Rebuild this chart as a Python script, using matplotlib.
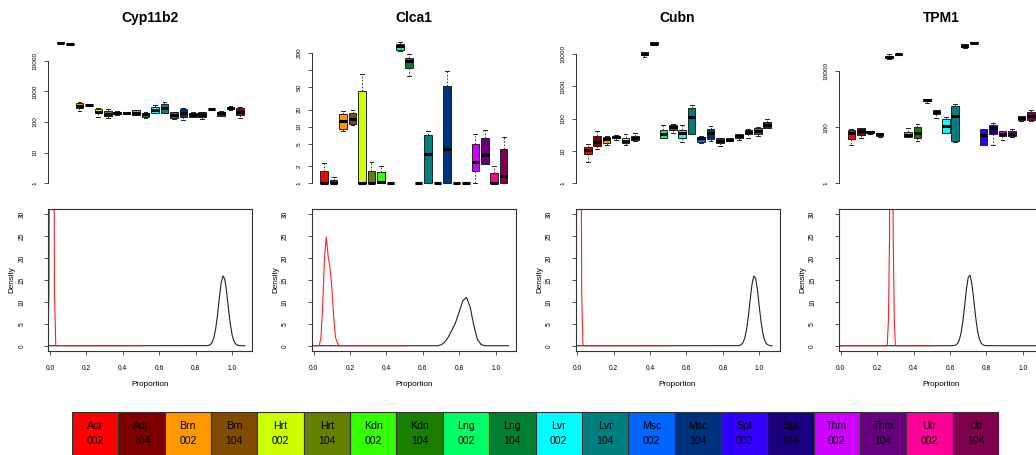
import matplotlib
matplotlib.use('Agg')
import matplotlib.pyplot as plt
from matplotlib.patches import Rectangle
from matplotlib.ticker import NullLocator
import math

plt.rcParams['font.family'] = ['Liberation Sans', 'DejaVu Sans']

# groups: tissue x sample
tissues = ['Adr', 'Brn', 'Hrt', 'Kdn', 'Lng', 'Lvr', 'Msc', 'Spl', 'Thm', 'Utr']
samples = ['002', '104']
colors = ['#FF0000', '#7F0000', '#FF9900', '#7F4C00', '#CCFF00', '#667F00',
          '#33FF00', '#197F00', '#00FF66', '#007F33', '#00FFFF', '#007F7F',
          '#0066FF', '#00337F', '#3300FF', '#19007F', '#CC00FF', '#66007F',
          '#FF0099', '#7F004C']

genes = ['Cyp11b2', 'Clca1', 'Cubn', 'TPM1']

# box stats (whisker low, q1, median, q3, whisker high), one entry per group
cyp_lo = [36000, 34500, 230, 330, 150, 140, 175, 180, 165, 130, 200, 200, 124, 115, 148, 121, 255, 155, 250, 130]
cyp_q1 = [37000, 35000, 277, 345, 190, 159, 180, 185, 168, 148, 200, 200, 140, 148, 148, 150, 260, 160, 265, 168]
cyp_med = [38000, 35500, 331, 355, 216, 180, 200, 195, 200, 176, 245, 277, 168, 200, 168, 175, 265, 190, 277, 216]
cyp_q3 = [39000, 36000, 405, 365, 258, 228, 216, 205, 245, 200, 315, 385, 210, 258, 200, 205, 275, 216, 300, 277]
cyp_hi = [40000, 36500, 440, 375, 277, 260, 220, 210, 255, 216, 360, 440, 216, 277, 215, 216, 280, 220, 320, 300]

clca_lo = [1, 1, 8.4, 10.5, 1, 1, 1, 1, 217, 78, 1, 1, 1, 1, 1, 1, 1, 2.2, 1, 1]
clca_q1 = [1, 1, 9.2, 11.3, 1, 1, 1, 1, 226, 110, 1, 1, 1, 1, 1, 1, 1.63, 2.2, 1, 1]
clca_med = [1, 1, 12.6, 13.8, 1, 1, 1.07, 1, 260, 145, 1, 3.27, 1, 3.96, 1, 1, 2.36, 3.2, 1, 1.33]
clca_q3 = [1.63, 1.15, 17, 17.5, 43, 1.68, 1.57, 1, 286, 166, 1, 7.0, 1, 52.7, 1, 1, 4.86, 6.4, 1.5, 4.07]
clca_hi = [2.3, 1.28, 19, 19.5, 85, 2.4, 2.0, 1, 310, 190, 1, 8.3, 1, 97, 1, 1, 7.5, 8.6, 2.06, 6.7]

cubn_lo = [4.7, 11.3, 15, 22, 15.7, 21, 8200, 19500, 25.8, 36.6, 19, 34, 17.3, 20.4, 14.3, 20, 21.4, 26, 29, 52]
cubn_q1 = [7.9, 14.3, 18, 25, 17.3, 21.4, 9300, 20000, 25.8, 46, 26, 34, 19, 24, 17.3, 20.4, 24.6, 32.7, 34, 52]
cubn_med = [10.5, 19.5, 23, 27.7, 20.4, 25.8, 10300, 21000, 32.7, 55, 35, 111, 24.6, 35, 20.4, 22.5, 28.5, 39.5, 43, 63]
cubn_q3 = [13.3, 29, 27.6, 30, 24.6, 30, 11300, 23000, 46, 66, 46, 215, 27.7, 49, 24.6, 24.6, 32.7, 46, 52, 80]
cubn_hi = [16, 41, 30, 32, 34, 36, 11600, 23500, 66, 69, 62, 260, 29, 59, 25.8, 25, 34, 49, 55, 97]

tpm_lo = [24, 40, 59, 46, 26000, 38000, 46, 33, 720, 215, 61, 30.7, 68000, 98000, 24, 24, 35, 44, 170, 172]
tpm_q1 = [38, 53, 61, 48, 28000, 38500, 46, 41.5, 826, 300, 61, 31.6, 70000, 100000, 24, 55, 50, 48, 180, 183]
tpm_med = [63, 72, 66, 55, 31600, 39000, 53, 61, 900, 343, 106, 247, 78000, 102000, 53, 95, 55, 58, 215, 247]
tpm_q3 = [80, 92, 72, 61, 35000, 39500, 70, 100, 972, 394, 199, 550, 88000, 104000, 87, 124, 72, 72, 240, 343]
tpm_hi = [85, 95, 75, 63, 41000, 40000, 92, 131, 1030, 415, 228, 645, 92000, 106000, 87, 139, 76, 85, 250, 415]

# y axis ticks of the boxplots
cyp_ticks = [1, 10, 100, 1000, 10000]
clca_ticks = [1, 2, 5, 10, 20, 50, 100, 200]
clca_labels = ['1', '2', '5', '10', '20', '50', '', '200']
cubn_ticks = [1, 10, 100, 1000, 10000]
tpm_ticks = [1, 100, 10000]

# density curves
cyp_black_x = [-0.012, 0.86, 0.87, 0.88, 0.89, 0.90, 0.91, 0.92, 0.93, 0.94, 0.95, 0.96, 0.97,
               0.98, 0.99, 1.00, 1.01, 1.02, 1.03, 1.04, 1.07]
cyp_black_y = [0, 0.02, 0.07, 0.25, 0.74, 1.84, 3.9, 7.0, 10.9, 14.3, 15.95, 15.2, 12.3,
               8.5, 5.0, 2.5, 1.09, 0.4, 0.12, 0.03, 0]
cyp_red_x = [-0.012, -0.005, 0.0, 0.005, 0.010, 0.015, 0.02, 0.025, 0.032, 0.51]
cyp_red_y = [0, 12, 70, 130, 150, 130, 70, 12, 0, 0]

clca_black_x = [-0.012, 0.68, 0.70, 0.72, 0.74, 0.76, 0.78, 0.80, 0.82, 0.84, 0.86, 0.88, 0.90,
                0.92, 0.94, 1.07]
clca_black_y = [0, 0, 0.2, 0.8, 2.0, 3.6, 5.3, 7.8, 10.3, 11.0, 8.8, 4.6, 1.4, 0.3, 0, 0]
clca_red_x = [-0.012, 0.03, 0.04, 0.05, 0.06, 0.07, 0.08, 0.09, 0.10, 0.11, 0.12, 0.13, 0.14, 0.51]
clca_red_y = [0, 0, 1.5, 9, 20, 24.8, 20.5, 18, 13.5, 7, 2, 0.8, 0, 0]

cubn_black_x = [-0.012, 0.88, 0.89, 0.90, 0.91, 0.92, 0.93, 0.94, 0.95, 0.96, 0.97, 0.98, 0.99,
                1.00, 1.01, 1.02, 1.03, 1.04, 1.05, 1.06, 1.07]
cubn_black_y = [0, 0.016, 0.065, 0.225, 0.67, 1.69, 3.65, 6.7, 10.5, 14.0, 15.9, 15.4, 12.7,
                8.9, 5.35, 2.73, 1.19, 0.44, 0.14, 0.04, 0]
cubn_red_x = [-0.012, -0.005, 0.0, 0.005, 0.010, 0.015, 0.02, 0.025, 0.032, 0.51]
cubn_red_y = [0, 12, 70, 130, 150, 130, 70, 12, 0, 0]

tpm_black_x = [-0.012, 0.61, 0.62, 0.63, 0.64, 0.65, 0.66, 0.67, 0.68, 0.69, 0.70, 0.71, 0.72,
               0.73, 0.74, 0.75, 0.76, 0.77, 0.78, 0.79, 0.80, 1.07]
tpm_black_y = [0, 0.01, 0.04, 0.14, 0.45, 1.2, 2.77, 5.4, 9.0, 12.9, 15.6, 16.1, 14.1,
               10.6, 6.8, 3.7, 1.7, 0.67, 0.23, 0.065, 0.016, 0]
tpm_red_x = [-0.012, 0.255, 0.262, 0.268, 0.273, 0.278, 0.283, 0.288, 0.294, 0.30, 0.51]
tpm_red_y = [0, 0, 6, 25, 90, 130, 90, 25, 6, 0, 0]

box_data = {
    'Cyp11b2': (cyp_lo, cyp_q1, cyp_med, cyp_q3, cyp_hi),
    'Clca1': (clca_lo, clca_q1, clca_med, clca_q3, clca_hi),
    'Cubn': (cubn_lo, cubn_q1, cubn_med, cubn_q3, cubn_hi),
    'TPM1': (tpm_lo, tpm_q1, tpm_med, tpm_q3, tpm_hi),
}
tick_data = {
    'Cyp11b2': (cyp_ticks, [str(t) for t in cyp_ticks]),
    'Clca1': (clca_ticks, clca_labels),
    'Cubn': (cubn_ticks, [str(t) for t in cubn_ticks]),
    'TPM1': (tpm_ticks, [str(t) for t in tpm_ticks]),
}
dens_data = {
    'Cyp11b2': (cyp_black_x, cyp_black_y, cyp_red_x, cyp_red_y),
    'Clca1': (clca_black_x, clca_black_y, clca_red_x, clca_red_y),
    'Cubn': (cubn_black_x, cubn_black_y, cubn_red_x, cubn_red_y),
    'TPM1': (tpm_black_x, tpm_black_y, tpm_red_x, tpm_red_y),
}

W, H = 1036, 455
fig = plt.figure(figsize=(W / 100, H / 100), dpi=100)

n = len(colors)
for i, gene in enumerate(genes):
    left = 48.3 + 263.6 * i

    # boxplot on log scale
    ax = fig.add_axes([left / W, (H - 189) / H, 204 / W, 152.5 / H])
    lo, q1, med, q3, hi = box_data[gene]
    stats = []
    for k in range(n):
        stats.append(dict(whislo=lo[k], q1=q1[k], med=med[k], q3=q3[k], whishi=hi[k], fliers=[]))
    bp = ax.bxp(stats, positions=range(1, n + 1), widths=0.8, patch_artist=True,
                showfliers=False,
                boxprops=dict(linewidth=0.7, edgecolor='#222222'),
                medianprops=dict(color='black', linewidth=2.2, solid_capstyle='butt'),
                whiskerprops=dict(linestyle=(0, (2, 2)), linewidth=0.6, color='#222222'),
                capprops=dict(linewidth=0.7, color='#222222'))
    for patch, c in zip(bp['boxes'], colors):
        patch.set_facecolor(c)
    ax.set_yscale('log')
    top = math.log10(max(hi))
    ax.set_ylim(10 ** (-0.04 * top), 10 ** (1.04 * top))
    ax.set_xlim(0.5 - 0.04 * n, n + 0.5 + 0.04 * n)
    ticks, labels = tick_data[gene]
    ax.set_yticks(ticks)
    ax.set_yticklabels(labels, rotation=90, va='center')
    ax.yaxis.set_minor_locator(NullLocator())
    ax.set_xticks([])
    for s in ['top', 'right', 'bottom']:
        ax.spines[s].set_visible(False)
    ax.spines['left'].set_bounds(ticks[0], ticks[-1])
    ax.spines['left'].set_color('#333333')
    ax.spines['left'].set_linewidth(0.7)
    ax.tick_params(axis='y', length=3, width=0.6, color='#333333', labelsize=4.6, pad=4.5)
    ax.patch.set_alpha(0)

    fig.text((left + 102) / W, 1 - 18 / H, gene, ha='center', va='center',
             fontsize=10, fontweight='bold')

    # density plot
    ax2 = fig.add_axes([left / W, (H - 351) / H, 204 / W, 142 / H])
    bx, by, rx, ry = dens_data[gene]
    ax2.plot(bx, by, color='#222222', linewidth=0.8)
    ax2.plot(rx, ry, color='#FF2020', linewidth=0.8)
    ax2.set_xlim(-0.009, 1.111)
    ax2.set_ylim(-1.2, 31.2)
    ax2.set_xticks([0.0, 0.2, 0.4, 0.6, 0.8, 1.0])
    ax2.set_xticklabels(['0.0', '0.2', '0.4', '0.6', '0.8', '1.0'])
    ax2.set_yticks([0, 5, 10, 15, 20, 25, 30])
    ax2.set_yticklabels(['0', '5', '10', '15', '20', '25', '30'], rotation=90, va='center')
    ax2.tick_params(axis='x', length=3, width=0.6, color='#333333', labelsize=4.8, pad=7)
    ax2.tick_params(axis='y', length=3, width=0.6, color='#333333', labelsize=4.8, pad=13.5)
    for s in ax2.spines.values():
        s.set_color('#333333')
        s.set_linewidth(0.8)
    ax2.text(0.5, -(385 - 351) / 142, 'Proportion', transform=ax2.transAxes,
             ha='center', va='center', fontsize=5.9)
    ax2.text(-36 / 204, 0.5, 'Density', transform=ax2.transAxes, rotation=90,
             ha='center', va='center', fontsize=5.9)

# colour key at the bottom
axl = fig.add_axes([72 / W, 0, 927 / W, 44 / H])
axl.set_xlim(0, n)
axl.set_ylim(44, 0)
axl.axis('off')
for k in range(n):
    axl.add_patch(Rectangle((k, 1), 1, 60, facecolor=colors[k], edgecolor='#333333',
                            linewidth=0.8))
    axl.text(k + 0.5, 15, tissues[k // 2], ha='center', va='center', fontsize=7.6)
    axl.text(k + 0.5, 30, samples[k % 2], ha='center', va='center', fontsize=7.6)

fig.savefig('out.png', dpi=100)
